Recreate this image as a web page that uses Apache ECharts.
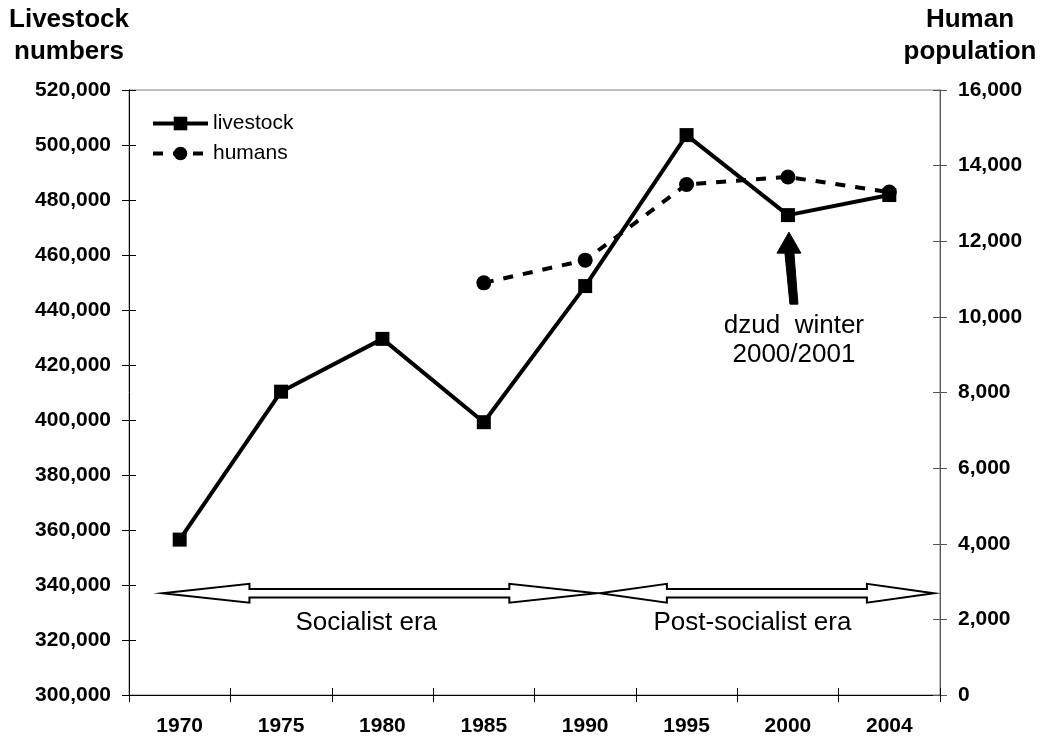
<!DOCTYPE html>
<html>
<head>
<meta charset="utf-8">
<script src="https://cdn.jsdelivr.net/npm/echarts@6/dist/echarts.min.js"></script>
<style>
  html, body { margin: 0; padding: 0; background: #fff; }
  #chart { width: 1050px; height: 740px; }
</style>
</head>
<body>
<div id="chart"></div>
<script>
// Livestock and human population, 1970-2004
const years = ['1970', '1975', '1980', '1985', '1990', '1995', '2000', '2004'];
const livestock = [356500, 410300, 429500, 399200, 448700, 503600, 474500, 481800];
const humans = [null, null, null, 10900, 11500, 13500, 13700, 13300];

// Axis ranges
const livestockAxis = { min: 300000, max: 520000, interval: 20000 };
const humanAxis = { min: 0, max: 16000, interval: 2000 };

// Period annotations (positions in category steps from 1970, level on livestock axis)
const eras = [
  { label: 'Socialist era', from: -0.17, to: 4.11, head: 87, textAt: 1.84 },
  { label: 'Post-socialist era', from: 4.145, to: 7.44, head: 67, textAt: 5.65 }
];
const eraLevel = 337000;
const eraTextLevel = 326300;

const FONT = '"Liberation Sans", Arial, Helvetica, sans-serif';
const fmt = v => v.toLocaleString('en-US');

const chart = echarts.init(document.getElementById('chart'), null, { renderer: 'canvas' });

const boldLabel = { color: '#000', fontFamily: FONT, fontWeight: 'bold', fontSize: 21 };

const tickTwin = (position, range) => ({
  type: 'value', position: position, min: range.min, max: range.max, interval: range.interval,
  axisLine: { show: false }, axisLabel: { show: false }, splitLine: { show: false },
  axisTick: { show: true, inside: true, length: 7, lineStyle: { color: position === 'left' ? '#000' : '#555', width: 1 } }
});

const option = {
  backgroundColor: '#fff',
  animation: false,
  grid: {
    left: 129, right: 110, top: 90, bottom: 45,
    show: true, borderColor: '#808080', borderWidth: 1, backgroundColor: 'transparent'
  },
  legend: {
    orient: 'vertical', left: 146, top: 108,
    itemWidth: 55, itemHeight: 17, itemGap: 9,
    lineStyle: { width: 4 },
    textStyle: { color: '#000', fontFamily: FONT, fontSize: 21, padding: [0, 0, 0, 0] },
    data: ['livestock', 'humans']
  },
  xAxis: [
    {
      type: 'category', data: years, boundaryGap: true, position: 'bottom',
      axisLine: { show: true, lineStyle: { color: '#000', width: 1 } },
      axisTick: { show: true, length: 7, lineStyle: { color: '#000' } },
      axisLabel: Object.assign({ margin: 21 }, boldLabel),
      splitLine: { show: false }
    },
    {
      type: 'category', data: years, boundaryGap: true, position: 'bottom',
      axisLine: { show: false },
      axisTick: { show: true, inside: true, length: 7, lineStyle: { color: '#000' } },
      axisLabel: { show: false },
      splitLine: { show: false }
    }
  ],
  yAxis: [
    {
      type: 'value', position: 'left',
      min: livestockAxis.min, max: livestockAxis.max, interval: livestockAxis.interval,
      axisLine: { show: true, lineStyle: { color: '#000', width: 1 } },
      axisTick: { show: true, length: 7, lineStyle: { color: '#000' } },
      axisLabel: Object.assign({ margin: 18, formatter: fmt }, boldLabel),
      splitLine: { show: false }
    },
    {
      type: 'value', position: 'right',
      min: humanAxis.min, max: humanAxis.max, interval: humanAxis.interval,
      axisLine: { show: true, lineStyle: { color: '#555', width: 1 } },
      axisTick: { show: true, length: 7, lineStyle: { color: '#555' } },
      axisLabel: Object.assign({ margin: 18, formatter: fmt }, boldLabel),
      splitLine: { show: false }
    },
    tickTwin('left', livestockAxis),
    tickTwin('right', humanAxis)
  ],
  series: [
    {
      name: 'humans', type: 'line', xAxisIndex: 0, yAxisIndex: 1, data: humans,
      symbol: 'circle', symbolSize: 15, showAllSymbol: true, connectNulls: false,
      itemStyle: { color: '#000' },
      lineStyle: { color: '#000', width: 4, type: [10, 10] },
      z: 2
    },
    {
      name: 'livestock', type: 'line', xAxisIndex: 0, yAxisIndex: 0, data: livestock,
      symbol: 'rect', symbolSize: 14, showAllSymbol: true,
      itemStyle: { color: '#000' },
      lineStyle: { color: '#000', width: 4, type: 'solid' },
      z: 3
    }
  ]
};

chart.setOption(option);

// Annotations placed through the axes' own scales
function buildGraphics() {
  const c0 = chart.convertToPixel({ xAxisIndex: 0 }, years[0]);
  const c1 = chart.convertToPixel({ xAxisIndex: 0 }, years[1]);
  const step = c1 - c0;
  const g = [];

  // Double-headed hollow arrows marking the two periods
  const ay = chart.convertToPixel({ yAxisIndex: 0 }, eraLevel);
  const ty = chart.convertToPixel({ yAxisIndex: 0 }, eraTextLevel);
  const hh = 9.4, sh = 4.2;
  eras.forEach(e => {
    const x1 = c0 + e.from * step, x2 = c0 + e.to * step, H = e.head;
    g.push({
      type: 'polygon',
      shape: { points: [
        [x1, ay], [x1 + H, ay - hh], [x1 + H, ay - sh], [x2 - H, ay - sh], [x2 - H, ay - hh],
        [x2, ay], [x2 - H, ay + hh], [x2 - H, ay + sh], [x1 + H, ay + sh], [x1 + H, ay + hh]
      ] },
      style: { fill: '#fff', stroke: '#000', lineWidth: 2 },
      z: 10
    });
    g.push({
      type: 'text', x: c0 + e.textAt * step, y: ty,
      style: { text: e.label, fill: '#000', font: '26px ' + FONT, textAlign: 'center', textVerticalAlign: 'middle' },
      z: 10
    });
  });

  // Arrow pointing at the 2000 livestock drop
  const pt = chart.convertToPixel({ xAxisIndex: 0, yAxisIndex: 0 }, [years[6], livestock[6]]);
  const tx = pt[0] + 1, tyTip = pt[1] + 17;
  g.push({
    type: 'polygon',
    shape: { points: [
      [tx, tyTip], [tx + 12, tyTip + 21], [tx + 5, tyTip + 21], [tx + 9, tyTip + 72],
      [tx + 1, tyTip + 72], [tx - 4, tyTip + 21], [tx - 12, tyTip + 21]
    ] },
    style: { fill: '#000', stroke: '#000', lineWidth: 1 },
    z: 10
  });
  g.push({
    type: 'text', x: pt[0] + 6, y: pt[1] + 96,
    style: { text: 'dzud  winter\n2000/2001', fill: '#000', font: '26px ' + FONT, textAlign: 'center', textVerticalAlign: 'top', lineHeight: 29 },
    z: 10
  });

  // Axis titles
  g.push({
    type: 'text', x: 69, y: 4,
    style: { text: 'Livestock\nnumbers', fill: '#000', font: 'bold 26px ' + FONT, textAlign: 'center', textVerticalAlign: 'top', lineHeight: 32 },
    z: 10
  });
  g.push({
    type: 'text', x: 970, y: 4,
    style: { text: 'Human\npopulation', fill: '#000', font: 'bold 26px ' + FONT, textAlign: 'center', textVerticalAlign: 'top', lineHeight: 32 },
    z: 10
  });
  return g;
}

chart.setOption({ graphic: buildGraphics() });
</script>
</body>
</html>
